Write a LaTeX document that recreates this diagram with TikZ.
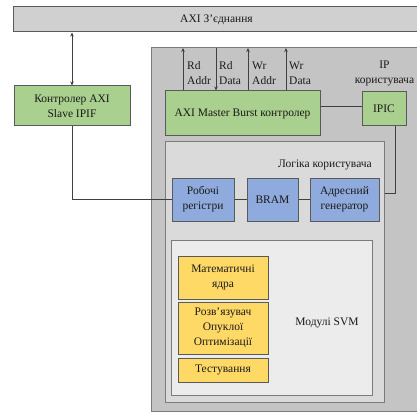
\documentclass[tikz,border=0pt]{standalone}
\usepackage{fontspec}
\setmainfont{Liberation Serif}
\usetikzlibrary{arrows.meta,calc}
\definecolor{barfill}{HTML}{D0D0D0}
\definecolor{ipfill}{HTML}{C4C4C4}
\definecolor{logicfill}{HTML}{DADADA}
\definecolor{svmfill}{HTML}{ECECEC}
\definecolor{greenfill}{HTML}{A9D08E}
\definecolor{bluefill}{HTML}{8FAADC}
\definecolor{yellowfill}{HTML}{FFD966}
\definecolor{edge}{HTML}{5A5A5A}
\definecolor{wire}{HTML}{404040}
\tikzset{
  txt/.style={font=\fontsize{11.5}{15}\selectfont, text=black!90, align=center, inner sep=0pt},
  blk/.style={txt, draw=edge, line width=1pt},
  greenbox/.style={blk, fill=greenfill},
  bluebox/.style={blk, fill=bluefill},
  yellowbox/.style={blk, fill=yellowfill},
  area/.style={draw=edge!80, line width=1pt},
  link/.style={draw=wire, line width=1pt},
  tip/.style={-{Stealth[length=4pt,width=3.5pt]}},
  twotip/.style={{Stealth[length=4pt,width=3.5pt]}-{Stealth[length=4pt,width=3.5pt]}}
}
\begin{document}
\begin{tikzpicture}[x=1pt,y=-1pt]
\useasboundingbox (0,0) rectangle (417,414);
\clip (0,0) rectangle (417,414);
\fill[white] (0,0) rectangle (417,414);

% AXI interconnect bar
\node[blk, fill=barfill, minimum width=407, minimum height=25] (bar) at (216.5,19.5) {AXI З’єднання};

% user IP container and its nested areas
\node[area, fill=ipfill, minimum width=274, minimum height=363] (ipbox) at (288,229.5) {};
\node[area, fill=logicfill, minimum width=219, minimum height=260] (logic) at (274.5,272) {};
\node[area, fill=svmfill, minimum width=201, minimum height=155] (svm) at (271.5,317.5) {};

% AXI slave controller
\node[greenbox, minimum width=116, minimum height=40] (slave) at (72,106) {Контролер AXI\\Slave IPIF};

% master burst controller and IPIC
\node[greenbox, minimum width=155, minimum height=45] (master) at (242.5,113.5) {AXI Master Burst контролер};
\node[greenbox, minimum width=44, minimum height=34] (ipic) at (384,109) {IPIC};
\node[txt] (iplabel) at (384.5,73) {IP\\користувача};

% user logic blocks
\node[txt, anchor=east] (logiclabel) at (372,165) {Логіка користувача};
\node[bluebox, minimum width=62, minimum height=43] (regs) at (203,199.5) {Робочі\\регістри};
\node[bluebox, minimum width=51, minimum height=43] (bram) at (272.5,199.5) {BRAM};
\node[bluebox, minimum width=69, minimum height=43] (addr) at (344.5,199.5) {Адресний\\генератор};

% SVM modules
\node[yellowbox, minimum width=90, minimum height=43] (math) at (223,277.5) {Математичні\\ядра};
\node[yellowbox, minimum width=90, minimum height=52] (solver) at (223,328) {Розв’язувач\\Опуклої\\Оптимізації};
\node[yellowbox, minimum width=90, minimum height=24] (test) at (223,370) {Тестування};
\node[txt] (svmlabel) at (327,323) {Модулі SVM};

% bus channels between master controller and the container top
\coordinate (rdaddr) at (183,48);
\coordinate (rddata) at (216,48);
\coordinate (wraddr) at (248,48);
\coordinate (wrdata) at (286,48);
\draw[link, tip] (rdaddr |- master.north) -- (rdaddr);
\draw[link, tip] (rddata) -- (rddata |- master.north);
\draw[link, tip] (wraddr |- master.north) -- (wraddr);
\draw[link, tip] (wrdata |- master.north) -- (wrdata);
\node[txt, anchor=west, align=left] (lrdaddr) at ($(rdaddr)+(4,25)$) {Rd\\Addr};
\node[txt, anchor=west, align=left] (lrddata) at ($(rddata)+(3,25)$) {Rd\\Data};
\node[txt, anchor=west, align=left] (lwraddr) at ($(wraddr)+(4,25)$) {Wr\\Addr};
\node[txt, anchor=west, align=left] (lwrdata) at ($(wrdata)+(3,25)$) {Wr\\Data};

% connections
\draw[link, twotip] (bar.south -| slave.north) -- (slave.north);
\draw[link] (slave.south) |- (regs.west);
\draw[link] (regs.east) -- (bram.west);
\draw[link] (bram.east) -- (addr.west);
\draw[link] (master.east |- 0,107) -- (ipic.west |- 0,107);
\coordinate (ipicdrop) at (395,193);
\draw[link] (ipicdrop |- ipic.south) -- (ipicdrop) -- (ipicdrop -| logic.east);
\end{tikzpicture}
\end{document}
